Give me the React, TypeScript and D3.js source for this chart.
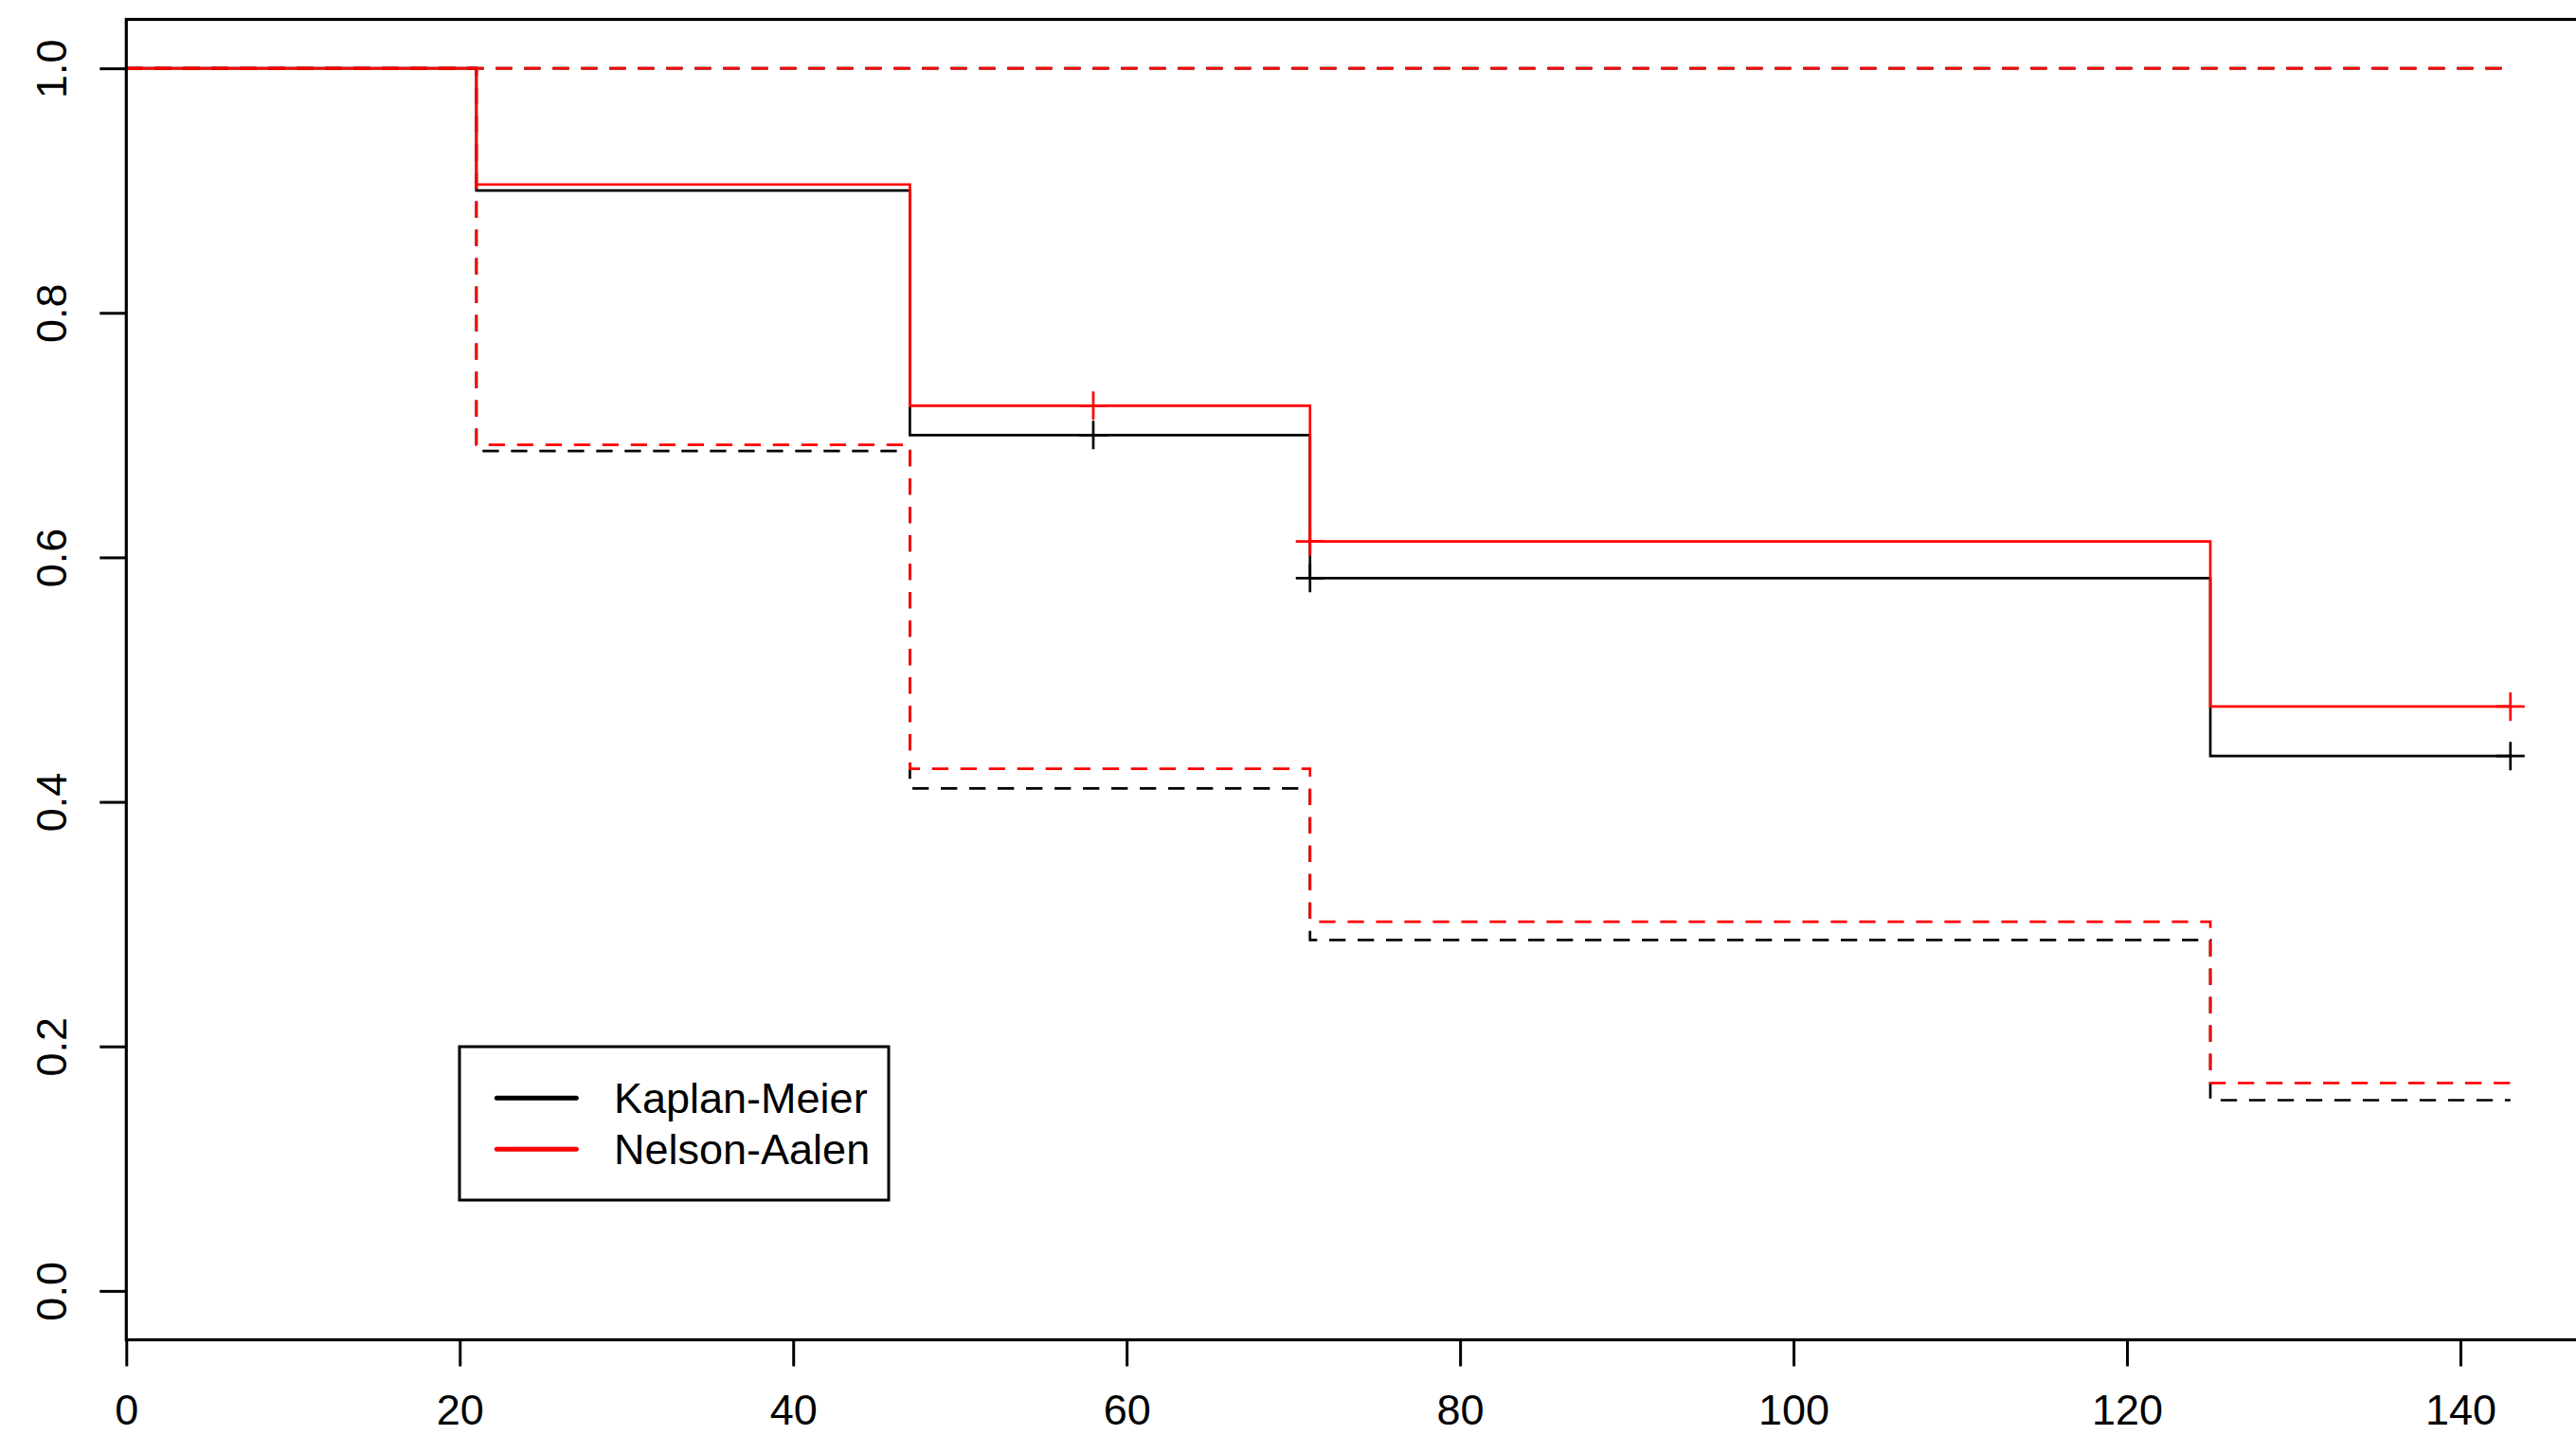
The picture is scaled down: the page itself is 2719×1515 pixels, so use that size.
import * as d3 from 'd3';
import { useEffect, useRef } from 'react';

// survival step data
const stepTimes = [0, 21, 47, 71, 125];
const endTime = 143;
const kmSurv = [1, 0.9, 0.7, 0.583, 0.4375];
const kmLower = [1, 0.687, 0.411, 0.287, 0.156];
const kmUpper = [1, 1, 1, 1, 1];
const naSurv = [1, 0.905, 0.724, 0.613, 0.478];
const naLower = [1, 0.692, 0.427, 0.302, 0.17];
const naUpper = [1, 1, 1, 1, 1];
const censorTimes = [58, 71, 143];

const xTicks = [0, 20, 40, 60, 80, 100, 120, 140];
const yTicks = [0, 0.2, 0.4, 0.6, 0.8, 1.0];
const legendLabels = ['Kaplan-Meier', 'Nelson-Aalen'];
const legendColors = ['black', 'red'];

const width = 2719;
const height = 1515;
const plot = { left: 133.3, top: 20.5, right: 2724, bottom: 1414.5 };
const font = '"Liberation Sans", Arial, Helvetica, sans-serif';

function App() {
    const xAxis = useRef(null);
    const yAxis = useRef(null);

    const xScale = d3.scaleLinear().domain([0, 140]).range([plot.left, 2597]);
    const yScale = d3.scaleLinear().domain([-0.04, 1.04]).range([plot.bottom, plot.top]);

    // step path for one curve, carried on to the last time
    const stepLine = (vals) => {
        const pts = stepTimes.map((t, i) => [t, vals[i]]);
        pts.push([endTime, vals[vals.length - 1]]);
        return d3.line().x(d => xScale(d[0])).y(d => yScale(d[1])).curve(d3.curveStepAfter)(pts);
    };

    const valueAt = (vals, t) => {
        let idx = 0;
        stepTimes.forEach((s, i) => { if (s <= t) idx = i; });
        return vals[idx];
    };

    useEffect(() => {
        const bottom = d3.axisBottom(xScale).tickValues(xTicks).tickSize(28).tickFormat(d3.format('d'));
        const gx = d3.select(xAxis.current).call(bottom);
        gx.select('.domain').remove();
        gx.attr('font-size', null).attr('font-family', null);
        gx.selectAll('line').attr('stroke-width', 3);
        // labels sit right at the bottom edge, kept just inside it
        gx.selectAll('text').attr('y', 1504 - plot.bottom).attr('dy', null);

        const left = d3.axisLeft(yScale).tickValues(yTicks).tickSize(28).tickFormat(d3.format('.1f'));
        const gy = d3.select(yAxis.current).call(left);
        gy.select('.domain').remove();
        gy.attr('font-size', null).attr('font-family', null);
        gy.selectAll('line').attr('stroke-width', 3);
        gy.selectAll('text')
            .attr('x', null).attr('dy', null)
            .attr('text-anchor', 'middle')
            .attr('transform', `translate(${70 - plot.left},0) rotate(-90)`);
    }, []);

    const curves = [
        { surv: kmSurv, lower: kmLower, upper: kmUpper, color: 'black' },
        { surv: naSurv, lower: naLower, upper: naUpper, color: 'red' },
    ];

    return <svg width={width} height={height}
        style={{ position: 'absolute', left: 0, top: 0, display: 'block', background: 'white' }}
        fontFamily={font} fontSize={45}>
        <rect width={width} height={height} fill='white' />
        {curves.map((c, i) => <g key={i} fill='none' stroke={c.color} strokeWidth={2.7}>
            <path d={stepLine(c.upper)} strokeDasharray='17.3,12.7' />
            <path d={stepLine(c.lower)} strokeDasharray='17.3,12.7' />
            <path d={stepLine(c.surv)} />
            {censorTimes.map(t => {
                const cx = xScale(t);
                const cy = yScale(valueAt(c.surv, t));
                return <path key={t} d={`M${cx - 15},${cy}H${cx + 15}M${cx},${cy - 15}V${cy + 15}`} />;
            })}
        </g>)}
        {/* box round the plot */}
        <rect x={plot.left} y={plot.top} width={plot.right - plot.left} height={plot.bottom - plot.top}
            fill='none' stroke='black' strokeWidth={3.2} />
        <g transform={`translate(0, ${plot.bottom})`} ref={xAxis} />
        <g transform={`translate(${plot.left}, 0)`} ref={yAxis} />
        {/* legend */}
        <g>
            <rect x={485} y={1105} width={453} height={162} fill='white' stroke='black' strokeWidth={3} />
            {legendLabels.map((lab, i) => {
                const ly = 1159.3 + i * 54;
                return <g key={lab}>
                    <line x1={524.3} x2={608.3} y1={ly} y2={ly} stroke={legendColors[i]} strokeWidth={5} strokeLinecap='round' />
                    <text x={648} y={ly + 16} fill='black'>{lab}</text>
                </g>;
            })}
        </g>
    </svg>;
}

export default App;
